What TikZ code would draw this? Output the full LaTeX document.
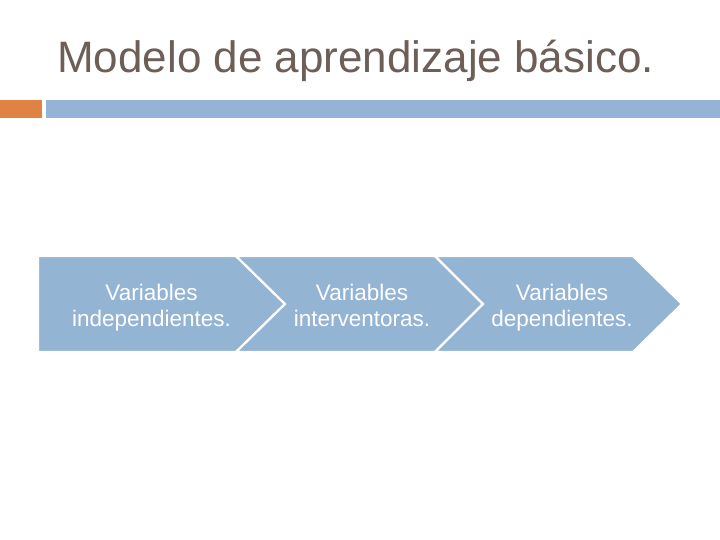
\documentclass[tikz,border=0pt]{standalone}
\usepackage{fontspec}
\setmainfont{Liberation Sans}
\definecolor{titlecol}{RGB}{110,94,88}
\definecolor{orangebar}{RGB}{223,130,68}
\definecolor{bluebar}{RGB}{149,179,214}
\definecolor{chevfill}{RGB}{148,180,212}
\tikzset{
  chev/.style={fill=chevfill, draw=white, line width=2.2pt, line join=miter},
  chevtext/.style={text=white, font=\fontsize{22.5}{26}\selectfont, align=center, inner sep=0pt, anchor=base},
  titletext/.style={text=titlecol, font=\fontsize{44}{50}\selectfont, anchor=base west, inner sep=0pt}
}
\begin{document}
\begin{tikzpicture}[x=1pt,y=-1pt]
\useasboundingbox (0,0) rectangle (720,540);
\fill[white] (0,0) rectangle (720,540);
\node[titletext] (title) at (57,73) {Modelo de aprendizaje básico.};
\fill[orangebar] (0,100) rectangle (42,118);
\fill[bluebar] (46,100) rectangle (720,118);
% chevrons
\draw[chev] (38,256) -- (236,256) -- (285,304) -- (236,352) -- (38,352) -- cycle;
\draw[chev] (236,256) -- (435,256) -- (483,304) -- (435,352) -- (236,352) -- (285,304) -- cycle;
\draw[chev] (435,256) -- (633,256) -- (682,304) -- (633,352) -- (435,352) -- (483,304) -- cycle;
\node[chevtext] (c1) at (151.5,326) {Variables\\independientes.};
\node[chevtext] (c2) at (362,326) {Variables\\interventoras.};
\node[chevtext] (c3) at (562,326) {Variables\\dependientes.};
\end{tikzpicture}
\end{document}
